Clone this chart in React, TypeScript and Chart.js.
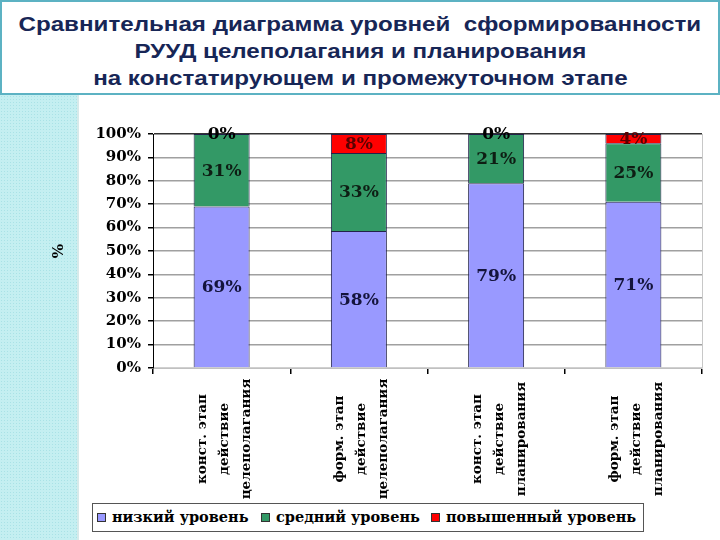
import React, { useEffect, useRef } from "react";
import { Chart, registerables } from "chart.js";

Chart.register(...registerables);

const titleLines = [
  "Сравнительная диаграмма уровней  сформированности",
  "РУУД целеполагания и планирования",
  "на констатирующем и промежуточном этапе",
];
const categories = [
  ["конст. этап", "действие", "целеполагания"],
  ["форм. этап", "действие", "целеполагания"],
  ["конст. этап", "действие", "планирования"],
  ["форм. этап", "действие", "планирования"],
];
const lowValues = [69, 58, 79, 71];
const midValues = [31, 33, 21, 25];
const highValues = [0, 8, 0, 4];
const seriesNames = ["низкий уровень", "средний уровень", "повышенный уровень"];
const seriesColors = ["#9999ff", "#339966", "#ff0000"];
const labelColors = ["#14143c", "#0e1e14", "#5a0000"];
const yAxisTitle = "%";

const rawSeries = [lowValues, midValues, highValues];
const totals = lowValues.map((v, i) => v + midValues[i] + highValues[i]);
const toShare = (arr: number[]) => arr.map((v, i) => (v / totals[i]) * 100);

const serif = '"DejaVu Serif", serif';

const valueLabels = {
  id: "valueLabels",
  afterDatasetsDraw(chart: any) {
    const ctx = chart.ctx;
    ctx.save();
    ctx.font = `bold 17px ${serif}`;
    ctx.textAlign = "center";
    ctx.textBaseline = "middle";
    chart.data.datasets.forEach((_ds: any, di: number) => {
      const meta = chart.getDatasetMeta(di);
      meta.data.forEach((bar: any, i: number) => {
        const { x, y, base } = bar.getProps(["x", "y", "base"], true);
        const raw = rawSeries[di][i];
        ctx.fillStyle = raw === 0 ? "#000" : labelColors[di];
        ctx.fillText(raw + "%", x, (y + base) / 2 + 1);
      });
    });
    ctx.restore();
  },
};

const categoryLabels = {
  id: "categoryLabels",
  afterDraw(chart: any) {
    const ctx = chart.ctx;
    const xs = chart.scales.x;
    const area = chart.chartArea;
    ctx.save();
    ctx.strokeStyle = "#c8c8c8";
    ctx.lineWidth = 1;
    ctx.beginPath();
    ctx.moveTo(area.right + 0.5, area.top);
    ctx.lineTo(area.right + 0.5, area.bottom);
    ctx.stroke();
    ctx.font = `bold 13.5px ${serif}`;
    ctx.fillStyle = "#000";
    ctx.textAlign = "center";
    ctx.textBaseline = "middle";
    categories.forEach((lines, i) => {
      const x = xs.getPixelForValue(i);
      ctx.save();
      ctx.translate(x + 3, area.bottom + 71);
      ctx.rotate(-Math.PI / 2);
      lines.forEach((ln, j) => {
        ctx.fillText(ln, 0, (j - (lines.length - 1) / 2) * 22);
      });
      ctx.restore();
    });
    ctx.restore();
  },
};

function ChartView() {
  const ref = useRef<HTMLCanvasElement | null>(null);
  useEffect(() => {
    if (!ref.current) return;
    const chart = new Chart(ref.current, {
      type: "bar",
      data: {
        labels: categories.map((c) => c.join(" ")),
        datasets: [lowValues, midValues, highValues].map((arr, di) => ({
          label: seriesNames[di],
          data: toShare(arr),
          backgroundColor: seriesColors[di],
          borderColor: "#22224a",
          borderWidth: 1,
          categoryPercentage: 1,
          barPercentage: 0.408,
        })),
      },
      options: {
        animation: false,
        responsive: false,
        maintainAspectRatio: false,
        layout: { padding: { left: 0, right: 18, top: 37, bottom: 0 } },
        plugins: {
          legend: { display: false },
          tooltip: { enabled: false },
          title: { display: false },
        },
        scales: {
          x: {
            stacked: true,
            ticks: { display: false },
            grid: {
              display: true,
              drawOnChartArea: false,
              offset: true,
              tickLength: 6,
              tickColor: "#000",
              lineWidth: 1.5,
            },
            border: { color: "#c0c0c0", width: 1 },
            afterFit: (s: any) => {
              s.height = 172;
            },
          },
          y: {
            stacked: true,
            min: 0,
            max: 100,
            ticks: {
              stepSize: 10,
              callback: (v: any) => v + "%",
              color: "#000",
              font: { family: serif, size: 15, weight: "bold" },
              padding: 7,
            },
            grid: {
              color: (c: any) =>
                c.tick && c.tick.value === 100 ? "#333" : c.tick && c.tick.value === 0 ? "#d0d0d0" : "#a0a0a0",
              lineWidth: 1.5,
              tickLength: 5,
              tickColor: "#000",
            },
            border: { color: "#000", width: 1 },
            title: {
              display: true,
              text: yAxisTitle,
              color: "#000",
              font: { family: serif, size: 15, weight: "bold" },
              padding: { top: 50, bottom: 0 },
            },
            afterFit: (s: any) => {
              s.width = 153;
            },
          },
        },
      },
      plugins: [valueLabels, categoryLabels],
    });
    return () => chart.destroy();
  }, []);
  return (
    <canvas
      ref={ref}
      width={720}
      height={443}
      style={{ position: "absolute", left: 0, top: 97, width: 720, height: 443 }}
    />
  );
}

const legendSquares = [96, 260, 430];

export default function App() {
  return (
    <div
      style={{
        position: "fixed",
        left: 0,
        top: 0,
        width: 720,
        height: 540,
        background: "#fff",
        overflow: "hidden",
      }}
    >
      <div
        style={{
          position: "absolute",
          left: 0,
          top: 95,
          width: 77,
          height: 445,
          backgroundColor: "#c4eff1",
          backgroundImage: "radial-gradient(#a9e2e6 0.7px, transparent 0.9px)",
          backgroundSize: "3px 3px",
          borderRight: "2px solid #d6eaea",
        }}
      />
      <div
        style={{
          position: "absolute",
          left: 0,
          top: 0,
          width: 720,
          height: 95,
          boxSizing: "border-box",
          border: "2px solid #5cb2c3",
          background: "#fff",
          textAlign: "center",
          paddingTop: 8,
          fontFamily: '"Liberation Sans", Arial, sans-serif',
          fontWeight: "bold",
          fontSize: 21,
          lineHeight: "27px",
          color: "#172656",
          whiteSpace: "pre",
        }}
      >
        {titleLines.map((t, i) => (
          <div key={i}>
            <span style={{ display: "inline-block", transform: "scaleX(1.15)" }}>{t}</span>
          </div>
        ))}
      </div>
      <ChartView />
      <div
        style={{
          position: "absolute",
          left: 92,
          top: 503,
          width: 552,
          height: 29,
          boxSizing: "border-box",
          border: "1px solid #555",
          background: "#fff",
        }}
      >
        {seriesNames.map((n, i) => (
          <React.Fragment key={i}>
            <div
              style={{
                position: "absolute",
                left: legendSquares[i] - 92,
                top: 9,
                width: 7,
                height: 7,
                background: seriesColors[i],
                border: "1px solid #333",
              }}
            />
            <div
              style={{
                position: "absolute",
                left: legendSquares[i] - 92 + 15,
                top: 4,
                fontFamily: serif,
                fontWeight: "bold",
                fontSize: 14.5,
                lineHeight: "18px",
                color: "#000",
                whiteSpace: "nowrap",
              }}
            >
              {n}
            </div>
          </React.Fragment>
        ))}
      </div>
    </div>
  );
}
